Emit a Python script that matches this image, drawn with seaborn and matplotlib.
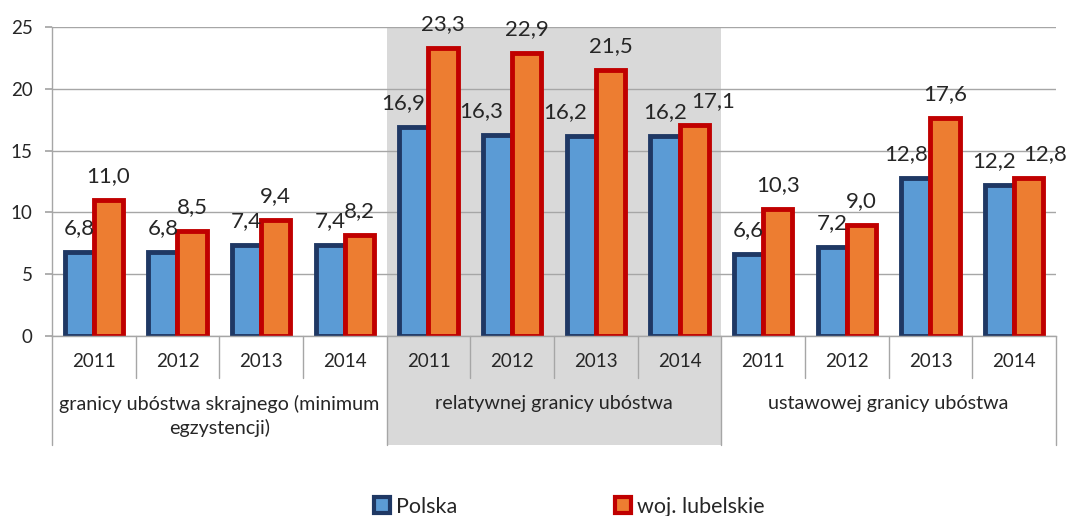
import pandas as pd
import seaborn as sns
import matplotlib.pyplot as plt
import matplotlib.transforms as mtransforms
from matplotlib.patches import Patch, Rectangle

# --- data ---
groups = ['granicy ubóstwa skrajnego (minimum\negzystencji)',
          'relatywnej granicy ubóstwa',
          'ustawowej granicy ubóstwa']
years = ['2011', '2012', '2013', '2014']
series = ['Polska', 'woj. lubelskie']
polska = [6.8, 6.8, 7.4, 7.4, 16.9, 16.3, 16.2, 16.2, 6.6, 7.2, 12.8, 12.2]
lubelskie = [11.0, 8.5, 9.4, 8.2, 23.3, 22.9, 21.5, 17.1, 10.3, 9.0, 17.6, 12.8]

categories = [f'{g}-{y}' for g in range(len(groups)) for y in years]
df = pd.DataFrame({
    'kat': categories * 2,
    'seria': [series[0]] * len(polska) + [series[1]] * len(lubelskie),
    'wartosc': polska + lubelskie,
})

# manual nudges of value labels (px), as in the original chart
shift_pl = [0, 0, 0, 0, -11, -16, -16, 0, 0, 0, -10, -5]
shift_lu = [0, 0, 0, 0, 0, 0, 0, 19, 0, 0, 0, 16]

# --- colours ---
blue_fill, blue_edge = '#5B9BD5', '#1F3864'
orange_fill, red_edge = '#ED7D31', '#C00000'
grey_line = '#A6A6A6'

sns.set_theme(style='white')
plt.rcParams['font.family'] = ['Lato', 'DejaVu Sans']

fig = plt.figure(figsize=(10.72, 5.16), dpi=100)
ax = fig.add_axes([52 / 1072, 180 / 516, 1004 / 1072, 309 / 516])

sns.barplot(data=df, x='kat', y='wartosc', hue='seria', order=categories,
            hue_order=series, palette=[blue_fill, orange_fill], width=0.7,
            saturation=1, legend=False, ax=ax)

for bar in ax.containers[0]:
    bar.set_edgecolor(blue_edge)
    bar.set_linewidth(3.5)
    bar.set_zorder(2)
for bar in ax.containers[1]:
    bar.set_edgecolor(red_edge)
    bar.set_linewidth(3.5)
    bar.set_zorder(2.1)

fmt = lambda v: f'{v:.1f}'.replace('.', ',')
pad = 10
for cont, vals, shifts in [(ax.containers[0], polska, shift_pl),
                           (ax.containers[1], lubelskie, shift_lu)]:
    anns = ax.bar_label(cont, labels=[fmt(v) for v in vals], padding=pad, fontsize=16)
    for a, dx in zip(anns, shifts):
        a.xyann = (dx * 0.72, pad)
        a.set_clip_on(False)

# axes styling
ax.set_ylim(0, 25)
ax.set_yticks(range(0, 26, 5))
ax.set_xlim(-0.5, len(categories) - 0.5)
ax.set_axisbelow(True)
ax.yaxis.grid(True, color=grey_line, lw=1)
for s in ['top', 'right']:
    ax.spines[s].set_visible(False)
for s in ['left', 'bottom']:
    ax.spines[s].set_color(grey_line)
    ax.spines[s].set_linewidth(1)
ax.tick_params(axis='y', left=True, length=5, color=grey_line, labelsize=13.5, pad=9)
ax.set_xticks(range(len(categories)))
ax.set_xticklabels(years * len(groups))
ax.tick_params(axis='x', length=0, labelsize=13.5, pad=12)
ax.set_xlabel('')
ax.set_ylabel('')

# grey band + multi-level axis
trans = mtransforms.blended_transform_factory(ax.transData, ax.transAxes)
ax.add_patch(Rectangle((3.5, -0.353), 4, 1.353, transform=trans,
                       facecolor='#D9D9D9', edgecolor='none', zorder=0, clip_on=False))

for x in [0.5, 1.5, 2.5, 4.5, 5.5, 6.5, 8.5, 9.5, 10.5]:
    ax.plot([x, x], [0, -0.136], transform=trans, color=grey_line, lw=1, clip_on=False)
for x in [-0.5, 3.5, 7.5, 11.5]:
    ax.plot([x, x], [0, -0.353], transform=trans, color=grey_line, lw=1, clip_on=False)

for i, g in enumerate(groups):
    ax.text(i * 4 + 1.5, -0.19, g, transform=trans, ha='center', va='top',
            fontsize=14.2, linespacing=1.4, multialignment='center')

handles = [Patch(facecolor=blue_fill, edgecolor=blue_edge, lw=3, label=series[0]),
           Patch(facecolor=orange_fill, edgecolor=red_edge, lw=3, label=series[1])]
fig.legend(handles=handles, loc='center', bbox_to_anchor=(0.531, 0.018), ncol=2,
           frameon=False, fontsize=15.5, handlelength=0.75, handleheight=0.75,
           handletextpad=0.3, columnspacing=7.3, borderpad=0)

fig.savefig('out.png', dpi=100)
